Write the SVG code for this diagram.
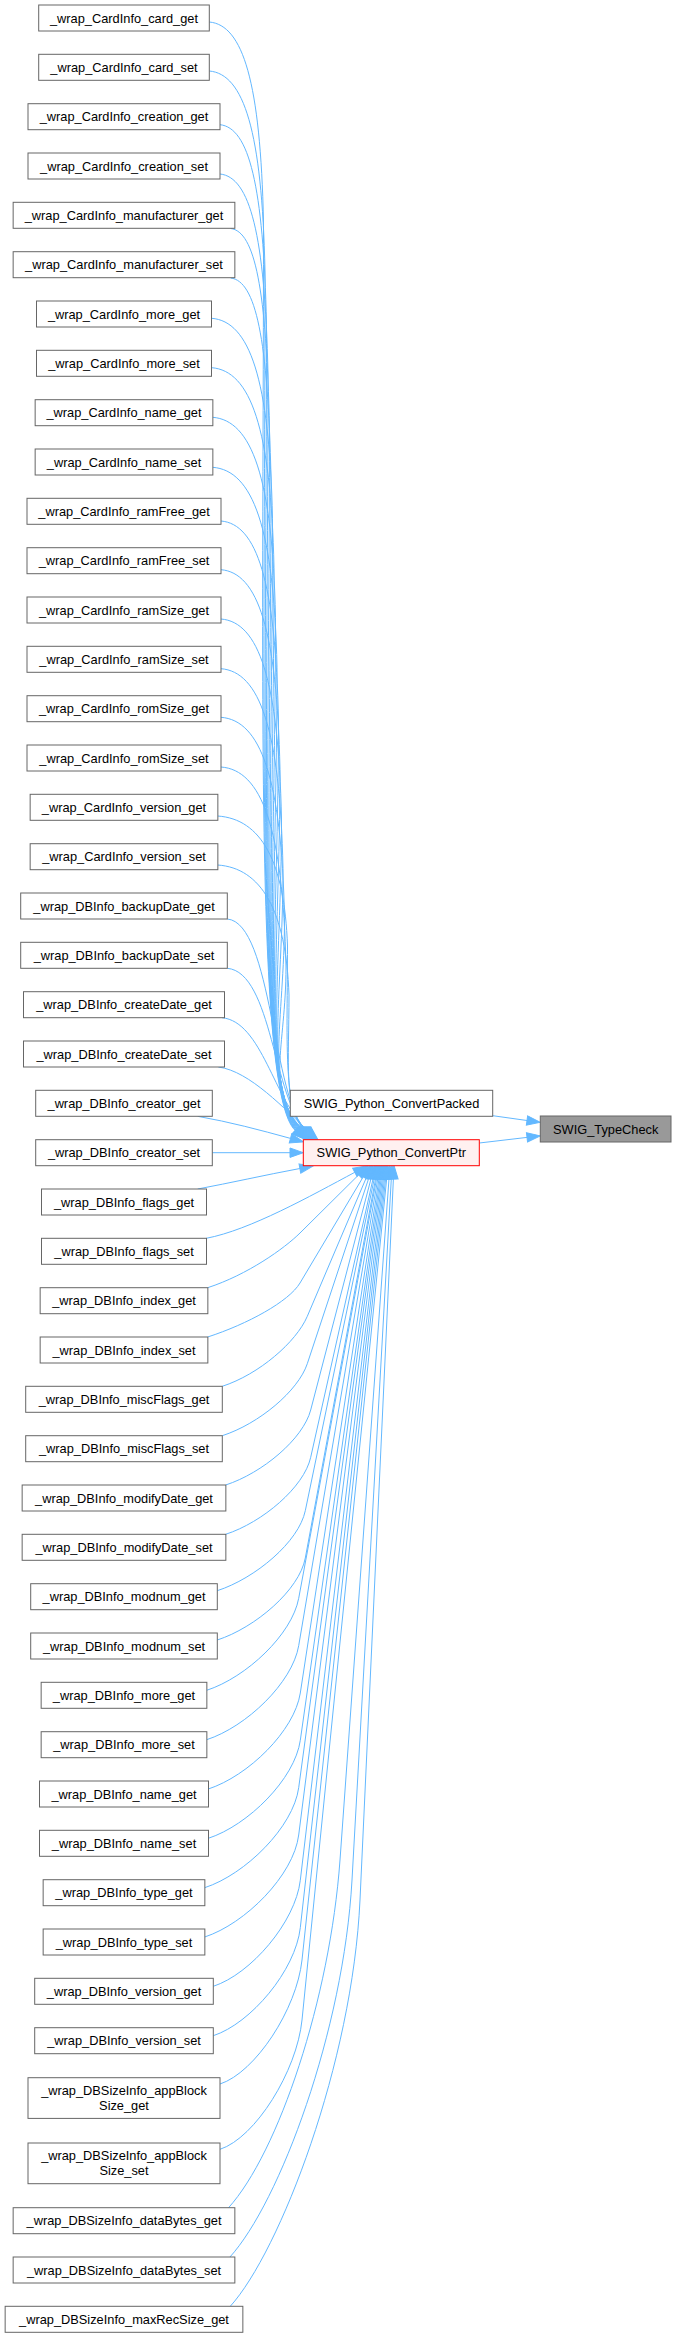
<svg xmlns="http://www.w3.org/2000/svg" width="677" height="2338" viewBox="0 0 677 2338">
<style>
.n rect{fill:#ffffff;stroke:#666666;stroke-width:1}
text{font-family:"Liberation Sans",Arial,Helvetica,sans-serif;font-size:12.8px;text-anchor:middle;fill:#000000}
#edges path{fill:none;stroke:#63b8ff;stroke-width:1;marker-end:url(#ah)}
</style>
<defs>
<marker id="ah" markerUnits="userSpaceOnUse" orient="auto" markerWidth="16" markerHeight="12" refX="1" refY="6" overflow="visible">
<path d="M1,1.3 L14.3,6 L1,10.7 Z" fill="#63b8ff" stroke="#63b8ff" stroke-width="1"/>
</marker>
</defs>
<rect width="677" height="2338" fill="#ffffff"/>
<g id="edges">
<path d="M209.3,22 C242.9,25 260.5,82 263.5,222 C263.5,676.2 254.5,1093.5 295.2,1130.4"/>
<path d="M209.3,71 C243.8,74 262,131 265,271 C265,700.7 255.1,1093.5 295.8,1130.4"/>
<path d="M220,124.7 C248.8,127.7 263.5,184.7 266.5,324.7 C266.5,727.6 255.7,1093.5 296.4,1130.4"/>
<path d="M220,174 C249.8,177 265,234 268,374 C268,752.2 256.3,1093.5 297,1130.4"/>
<path d="M230.7,228.5 C254.8,231.5 266.5,288.5 269.5,428.5 C269.5,779.5 256.9,1093.5 297.6,1130.4"/>
<path d="M230.7,278 C255.7,281 268,338 271,478 C271,804.2 257.5,1093.5 298.2,1130.4"/>
<path d="M211.7,318.3 C249.4,321.3 269.5,378.3 272.5,518.3 C272.5,824.4 258.1,1093.5 298.8,1130.4"/>
<path d="M211.7,367.7 C250.3,370.7 271,427.7 274,567.7 C274,849.1 258.7,1093.5 299.4,1130.4"/>
<path d="M212.7,417.3 C251.6,420.3 272.5,477.3 275.5,617.3 C275.5,873.9 259.3,1093.5 300,1130.4"/>
<path d="M212.7,467.3 C252.6,470.3 274,527.3 277,667.3 C277,898.9 259.9,1093.5 300.6,1130.4"/>
<path d="M221,521 C256.7,524 275.5,581 278.5,721 C278.5,925.7 260.5,1093.5 301.2,1130.4"/>
<path d="M221,569.7 C257.6,572.7 277,629.7 280,769.7 C280,950.1 261.1,1093.5 301.8,1130.4"/>
<path d="M221,619 C258.5,622 278.5,679 281.5,819 C281.5,974.7 261.7,1093.5 302.4,1130.4"/>
<path d="M221,668.7 C259.4,671.7 280,728.7 283,868.7 C283,999.6 262.3,1093.5 303,1130.4"/>
<path d="M221,717.3 C260.4,720.3 281.5,777.3 284.5,917.3 C284.5,1023.9 262.9,1093.5 303.6,1130.4"/>
<path d="M221,767 C261.3,770 283,827 286,967 C286,1048.7 263.5,1093.5 304.2,1130.4"/>
<path d="M217.7,816 C261,819 284.5,861 287.5,946 C287.5,1038.2 282.6,1110.3 304.8,1130.4"/>
<path d="M217.7,865 C261,868 286,910 289,995 C289,1062.7 283.2,1110.3 305.4,1130.4"/>
<path d="M227.3,919 C272.3,923 272.7,1100.2 306,1130.4"/>
<path d="M227.3,968.3 C272.3,972.3 273.3,1100.2 306.6,1130.4"/>
<path d="M222,1017.7 C262,1021.7 273.9,1100.2 307.2,1130.4"/>
<path d="M218.3,1067 C250,1071 285.6,1110.3 307.8,1130.4"/>
<path d="M197.7,1116.3 C230,1122 260,1130 290.5,1138.4"/>
<path d="M212.3,1152.7 L290,1152.7"/>
<path d="M197.7,1189 C230,1183 265,1175 299.9,1168.5"/>
<path d="M206.3,1238.3 C250,1230 310.8,1195.8 354.8,1172.3"/>
<path d="M207.7,1287.7 C247.4,1274.8 284.5,1248.4 300,1233 L358.6,1174.9"/>
<path d="M207.7,1337 C247.4,1324.1 288.9,1301.6 300,1283 L363.2,1176.9"/>
<path d="M222.3,1386.3 C258.9,1374.4 296.3,1342.1 307.3,1316.3 L366.3,1177.7"/>
<path d="M222.3,1435.7 C258.9,1423.8 298.2,1391 307.3,1363.7 L368.8,1178.1"/>
<path d="M225.7,1485 C262.3,1473.1 303.1,1439 310.7,1410 L371.1,1178.4"/>
<path d="M225.7,1534.3 C262.3,1522.4 304,1487.4 310.7,1457.3 L373.1,1178.5"/>
<path d="M217.3,1590.7 C255.1,1578.4 298.8,1542 305.3,1510.7 L374.3,1178.5"/>
<path d="M217.3,1640 C255.1,1627.7 299.3,1590.2 305.3,1558 L375.6,1178.6"/>
<path d="M206.7,1690.3 C246.3,1677.4 292,1634.5 298.7,1598.3 L376.6,1178.6"/>
<path d="M206.7,1739.7 C246.3,1726.8 292.4,1682.8 298.7,1645.7 L377.8,1178.6"/>
<path d="M208.3,1789 C247.9,1776.1 294.5,1731 300.3,1693 L379,1178.7"/>
<path d="M208.3,1838.3 C247.9,1825.4 294.8,1779.1 300.3,1740.3 L380.1,1178.7"/>
<path d="M204.7,1887.7 C245.1,1874.5 293.3,1827.3 298.7,1787.7 L381.2,1178.7"/>
<path d="M204.7,1937 C245.1,1923.8 293.6,1875.5 298.7,1835 L382.3,1178.7"/>
<path d="M213.3,1986.3 C250.7,1974.1 295.3,1922.4 300.3,1880.3 L383.4,1178.7"/>
<path d="M213.3,2035.7 C250.7,2023.5 295.5,1970.6 300.3,1927.7 L384.5,1178.7"/>
<path d="M220,2084 C255.3,2072.5 296.7,2009.3 302,1960 L385.6,1178.7"/>
<path d="M220,2149.3 C255.3,2137.8 296.8,2071.4 302,2020 L386.7,1178.7"/>
<path d="M228.3,2208 C278.3,2153 330,1998.8 340,1860 L389,1178.8"/>
<path d="M229.7,2257.3 C279.7,2202.3 343.6,2030.7 352,1880 L391.3,1178.8"/>
<path d="M230,2306.6 C280,2251.6 352.5,2062.5 360,1900 L393.4,1178.8"/>
<path d="M492.7,1115.7 L527,1120.5"/>
<path d="M479.3,1143 L527,1137.4"/>
</g>
<g id="node1" class="n"><rect x="38.7" y="5" width="170.6" height="26"/><text x="124" y="22.6">_wrap_CardInfo_card_get</text></g>
<g id="node2" class="n"><rect x="38.7" y="54.3" width="170.6" height="26"/><text x="124" y="71.9">_wrap_CardInfo_card_set</text></g>
<g id="node3" class="n"><rect x="28" y="103.7" width="192" height="26"/><text x="124" y="121.3">_wrap_CardInfo_creation_get</text></g>
<g id="node4" class="n"><rect x="28" y="153" width="192" height="26"/><text x="124" y="170.6">_wrap_CardInfo_creation_set</text></g>
<g id="node5" class="n"><rect x="13.15" y="202.3" width="221.7" height="26"/><text x="124" y="219.9">_wrap_CardInfo_manufacturer_get</text></g>
<g id="node6" class="n"><rect x="13.15" y="251.7" width="221.7" height="26"/><text x="124" y="269.3">_wrap_CardInfo_manufacturer_set</text></g>
<g id="node7" class="n"><rect x="36.5" y="301" width="175" height="26"/><text x="124" y="318.6">_wrap_CardInfo_more_get</text></g>
<g id="node8" class="n"><rect x="36.5" y="350.3" width="175" height="26"/><text x="124" y="367.9">_wrap_CardInfo_more_set</text></g>
<g id="node9" class="n"><rect x="35.15" y="399.7" width="177.7" height="26"/><text x="124" y="417.3">_wrap_CardInfo_name_get</text></g>
<g id="node10" class="n"><rect x="35.15" y="449" width="177.7" height="26"/><text x="124" y="466.6">_wrap_CardInfo_name_set</text></g>
<g id="node11" class="n"><rect x="27" y="498.3" width="194" height="26"/><text x="124" y="515.9">_wrap_CardInfo_ramFree_get</text></g>
<g id="node12" class="n"><rect x="27" y="547.7" width="194" height="26"/><text x="124" y="565.3">_wrap_CardInfo_ramFree_set</text></g>
<g id="node13" class="n"><rect x="27" y="597" width="194" height="26"/><text x="124" y="614.6">_wrap_CardInfo_ramSize_get</text></g>
<g id="node14" class="n"><rect x="27" y="646.3" width="194" height="26"/><text x="124" y="663.9">_wrap_CardInfo_ramSize_set</text></g>
<g id="node15" class="n"><rect x="27" y="695.7" width="194" height="26"/><text x="124" y="713.3">_wrap_CardInfo_romSize_get</text></g>
<g id="node16" class="n"><rect x="27" y="745" width="194" height="26"/><text x="124" y="762.6">_wrap_CardInfo_romSize_set</text></g>
<g id="node17" class="n"><rect x="30.15" y="794.3" width="187.7" height="26"/><text x="124" y="811.9">_wrap_CardInfo_version_get</text></g>
<g id="node18" class="n"><rect x="30.15" y="843.7" width="187.7" height="26"/><text x="124" y="861.3">_wrap_CardInfo_version_set</text></g>
<g id="node19" class="n"><rect x="20.7" y="893" width="206.6" height="26"/><text x="124" y="910.6">_wrap_DBInfo_backupDate_get</text></g>
<g id="node20" class="n"><rect x="20.7" y="942.3" width="206.6" height="26"/><text x="124" y="959.9">_wrap_DBInfo_backupDate_set</text></g>
<g id="node21" class="n"><rect x="23.5" y="991.7" width="201" height="26"/><text x="124" y="1009.3">_wrap_DBInfo_createDate_get</text></g>
<g id="node22" class="n"><rect x="23.5" y="1041" width="201" height="26"/><text x="124" y="1058.6">_wrap_DBInfo_createDate_set</text></g>
<g id="node23" class="n"><rect x="35.7" y="1090.3" width="176.6" height="26"/><text x="124" y="1107.9">_wrap_DBInfo_creator_get</text></g>
<g id="node24" class="n"><rect x="35.7" y="1139.7" width="176.6" height="26"/><text x="124" y="1157.3">_wrap_DBInfo_creator_set</text></g>
<g id="node25" class="n"><rect x="41.5" y="1189" width="165" height="26"/><text x="124" y="1206.6">_wrap_DBInfo_flags_get</text></g>
<g id="node26" class="n"><rect x="41.5" y="1238.3" width="165" height="26"/><text x="124" y="1255.9">_wrap_DBInfo_flags_set</text></g>
<g id="node27" class="n"><rect x="40.15" y="1287.7" width="167.7" height="26"/><text x="124" y="1305.3">_wrap_DBInfo_index_get</text></g>
<g id="node28" class="n"><rect x="40.15" y="1337" width="167.7" height="26"/><text x="124" y="1354.6">_wrap_DBInfo_index_set</text></g>
<g id="node29" class="n"><rect x="25.7" y="1386.3" width="196.6" height="26"/><text x="124" y="1403.9">_wrap_DBInfo_miscFlags_get</text></g>
<g id="node30" class="n"><rect x="25.7" y="1435.7" width="196.6" height="26"/><text x="124" y="1453.3">_wrap_DBInfo_miscFlags_set</text></g>
<g id="node31" class="n"><rect x="22.15" y="1485" width="203.7" height="26"/><text x="124" y="1502.6">_wrap_DBInfo_modifyDate_get</text></g>
<g id="node32" class="n"><rect x="22.15" y="1534.3" width="203.7" height="26"/><text x="124" y="1551.9">_wrap_DBInfo_modifyDate_set</text></g>
<g id="node33" class="n"><rect x="30.7" y="1583.7" width="186.6" height="26"/><text x="124" y="1601.3">_wrap_DBInfo_modnum_get</text></g>
<g id="node34" class="n"><rect x="30.7" y="1633" width="186.6" height="26"/><text x="124" y="1650.6">_wrap_DBInfo_modnum_set</text></g>
<g id="node35" class="n"><rect x="41.15" y="1682.3" width="165.7" height="26"/><text x="124" y="1699.9">_wrap_DBInfo_more_get</text></g>
<g id="node36" class="n"><rect x="41.15" y="1731.7" width="165.7" height="26"/><text x="124" y="1749.3">_wrap_DBInfo_more_set</text></g>
<g id="node37" class="n"><rect x="39.5" y="1781" width="169" height="26"/><text x="124" y="1798.6">_wrap_DBInfo_name_get</text></g>
<g id="node38" class="n"><rect x="39.5" y="1830.3" width="169" height="26"/><text x="124" y="1847.9">_wrap_DBInfo_name_set</text></g>
<g id="node39" class="n"><rect x="43.15" y="1879.7" width="161.7" height="26"/><text x="124" y="1897.3">_wrap_DBInfo_type_get</text></g>
<g id="node40" class="n"><rect x="43.15" y="1929" width="161.7" height="26"/><text x="124" y="1946.6">_wrap_DBInfo_type_set</text></g>
<g id="node41" class="n"><rect x="34.7" y="1978.3" width="178.6" height="26"/><text x="124" y="1995.9">_wrap_DBInfo_version_get</text></g>
<g id="node42" class="n"><rect x="34.7" y="2027.7" width="178.6" height="26"/><text x="124" y="2045.3">_wrap_DBInfo_version_set</text></g>
<g id="node43" class="n"><rect x="28" y="2077.7" width="192" height="40.7"/><text><tspan x="124" y="2095">_wrap_DBSizeInfo_appBlock</tspan><tspan x="124" y="2110">Size_get</tspan></text></g>
<g id="node44" class="n"><rect x="28" y="2143" width="192" height="40.7"/><text><tspan x="124" y="2160.3">_wrap_DBSizeInfo_appBlock</tspan><tspan x="124" y="2175.3">Size_set</tspan></text></g>
<g id="node45" class="n"><rect x="13.15" y="2207.7" width="221.7" height="26"/><text x="124" y="2225.3">_wrap_DBSizeInfo_dataBytes_get</text></g>
<g id="node46" class="n"><rect x="13.15" y="2257" width="221.7" height="26"/><text x="124" y="2274.6">_wrap_DBSizeInfo_dataBytes_set</text></g>
<g id="node47" class="n"><rect x="5.15" y="2306.3" width="237.7" height="26"/><text x="124" y="2323.9">_wrap_DBSizeInfo_maxRecSize_get</text></g>
<g id="node48" class="n"><rect x="290.3" y="1090.3" width="202.4" height="26"/><text x="391.5" y="1107.9">SWIG_Python_ConvertPacked</text></g>
<g id="node49"><rect x="303.3" y="1139.7" width="176" height="26" fill="#fff0f0" stroke="#ff0000" stroke-width="1"/><text x="391.3" y="1157.3">SWIG_Python_ConvertPtr</text></g>
<g id="node50"><rect x="540.3" y="1116" width="130.7" height="26" fill="#999999" stroke="#666666" stroke-width="1"/><text x="605.7" y="1133.6">SWIG_TypeCheck</text></g>
</svg>
